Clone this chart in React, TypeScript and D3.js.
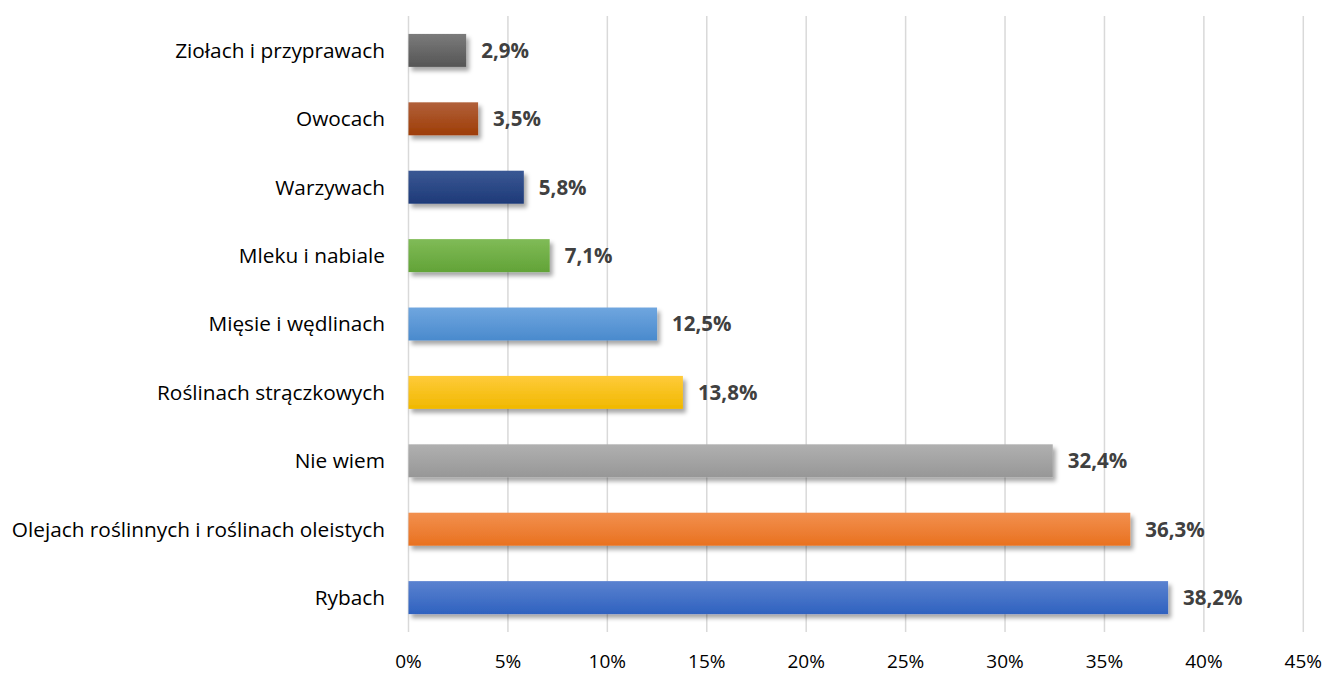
import React from "react";
import * as d3 from "d3";

const categories = [
  "Ziołach i przyprawach",
  "Owocach",
  "Warzywach",
  "Mleku i nabiale",
  "Mięsie i wędlinach",
  "Roślinach strączkowych",
  "Nie wiem",
  "Olejach roślinnych i roślinach oleistych",
  "Rybach",
];
const values = [2.9, 3.5, 5.8, 7.1, 12.5, 13.8, 32.4, 36.3, 38.2];
const valueLabels = ["2,9%", "3,5%", "5,8%", "7,1%", "12,5%", "13,8%", "32,4%", "36,3%", "38,2%"];
const ticks = [0, 5, 10, 15, 20, 25, 30, 35, 40, 45];
const colorsTop = ["#7b7b7b", "#b1603b", "#3a5894", "#80bb57", "#6fa6df", "#ffcb3a", "#b0b0b0", "#f2904f", "#5b82d0"];
const colorsBottom = ["#555555", "#9e3d06", "#1e3a78", "#62a337", "#4a8acd", "#f0b800", "#979797", "#e9711f", "#2f62bf"];

const W = 1327;
const H = 673;

export default function App() {
  const x = d3.scaleLinear().domain([0, 45]).range([408.5, 1303.3]);
  const y = d3.scaleBand<string>().domain(categories).range([16.2, 631.8]).paddingInner(0.518).paddingOuter(0.259);
  const font = "'Open Sans', sans-serif";
  return (
    <svg width={W} height={H} style={{ position: "absolute", left: 0, top: 0, background: "#fff" }}>
      <defs>
        <filter id="shadow" x="-10%" y="-30%" width="130%" height="180%">
          <feDropShadow dx="3" dy="4" stdDeviation="2.2" floodColor="#000" floodOpacity="0.35" />
        </filter>
        {categories.map((c, i) => (
          <linearGradient key={c} id={`g${i}`} x1="0" y1="0" x2="0" y2="1">
            <stop offset="0%" stopColor={colorsTop[i]} />
            <stop offset="100%" stopColor={colorsBottom[i]} />
          </linearGradient>
        ))}
      </defs>
      <rect width={W} height={H} fill="#fff" />
      {ticks.map((t) => (
        <g key={t}>
          <line x1={x(t)} x2={x(t)} y1={16} y2={632} stroke="#d9d9d9" strokeWidth={1.5} />
          <text x={x(t)} y={661} dy="0.36em" textAnchor="middle" fontFamily={font} fontSize={19} fill="#000">
            {t}%
          </text>
        </g>
      ))}
      {categories.map((c, i) => {
        const yy = y(c)!;
        const bh = y.bandwidth();
        return (
          <g key={c}>
            <rect x={x(0)} y={yy} width={x(values[i]) - x(0)} height={bh} fill={`url(#g${i})`} filter="url(#shadow)" />
            <text x={385} y={yy + bh / 2} dy="0.36em" textAnchor="end" fontFamily={font} fontSize={20.8} fill="#000">
              {c}
            </text>
            <text x={x(values[i]) + 15} y={yy + bh / 2} dy="0.36em" fontFamily={font} fontSize={20.5} fontWeight="bold" fill="#404040">
              {valueLabels[i]}
            </text>
          </g>
        );
      })}
    </svg>
  );
}
